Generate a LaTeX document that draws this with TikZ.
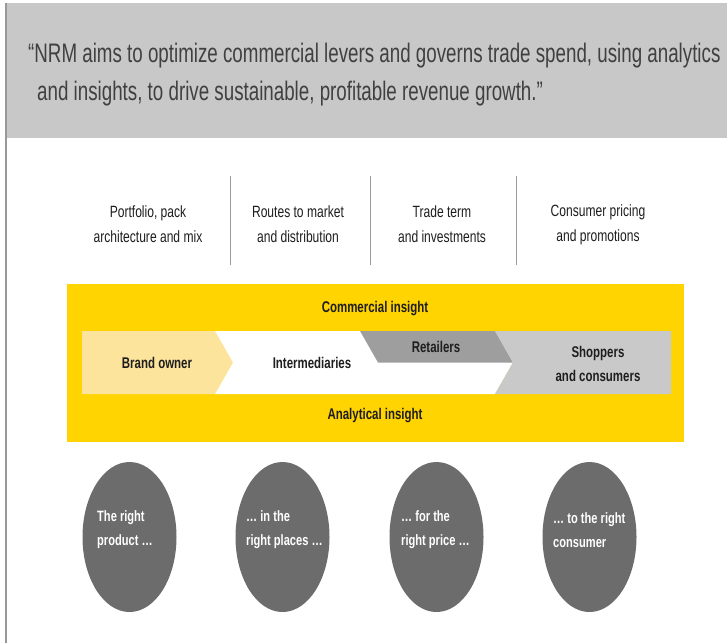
\documentclass[tikz,border=0pt]{standalone}
\usepackage{fontspec}
\setmainfont{Liberation Sans}[FakeStretch=0.74]
\newfontfamily\quotefont{Liberation Sans}[FakeStretch=0.70]
\usetikzlibrary{shapes.geometric}
\definecolor{bandgrey}{HTML}{C8C8C8}
\definecolor{eyyellow}{HTML}{FFD400}
\definecolor{paleyellow}{HTML}{FCE49C}
\definecolor{midgrey}{HTML}{9E9E9E}
\definecolor{lightgrey}{HTML}{C9C9C9}
\definecolor{circlegrey}{HTML}{6D6C6C}
\definecolor{ink}{HTML}{1E1E1E}
\definecolor{divgrey}{HTML}{9A9A9A}
\begin{document}
\begin{tikzpicture}[x=1pt,y=-1pt,
  quote/.style={font=\quotefont\fontsize{26.8}{32}\selectfont, text=ink!85, anchor=base west, inner sep=0},
  coltext/.style={font=\fontsize{16.3}{25}\selectfont, text=ink, align=center, inner sep=0},
  boldlabel/.style={font=\bfseries\fontsize{15.5}{24}\selectfont, text=ink, align=center, inner sep=0},
  oval/.style={ellipse, fill=circlegrey, minimum width=94pt, minimum height=150pt, inner sep=0},
  ovaltext/.style={font=\bfseries\fontsize{15}{24}\selectfont, text=white, align=left, anchor=west, inner sep=0},
  divider/.style={draw=divgrey, line width=0.8pt}]
\useasboundingbox (0,0) rectangle (727,643);
\fill[white] (0,0) rectangle (727,643);
% quote band
\fill[bandgrey] (6,3) rectangle (727,138);
\draw[gray!80, line width=1.2pt] (6,3) -- (6,643);
\node[quote] (q1) at (28,62) {“NRM aims to optimize commercial levers and governs trade spend, using analytics};
\node[quote] (q2) at (37,100) {and insights, to drive sustainable, profitable revenue growth.”};
% columns
\node[coltext] (c1) at (148,224.5) {Portfolio, pack\\architecture and mix};
\node[coltext] (c2) at (298,224.5) {Routes to market\\and distribution};
\node[coltext] (c3) at (442,224.5) {Trade term\\and investments};
\node[coltext] (c4) at (598,224.5) {Consumer pricing\\and promotions};
\draw[divider] (230,176) -- (230,265);
\draw[divider] (370,176) -- (370,265);
\draw[divider] (516,176) -- (516,265);
% yellow panel
\fill[eyyellow] (67,284) rectangle (684,442);
\node[boldlabel] (ci) at (375,309) {Commercial insight};
\node[boldlabel] (ai) at (375,416) {Analytical insight};
% chevrons
\fill[paleyellow] (82,331) -- (215,331) -- (233,362.5) -- (215,394) -- (82,394) -- cycle;
\fill[white] (215,331) -- (495,331) -- (513,362.5) -- (495,394) -- (215,394) -- (233,362.5) -- cycle;
\fill[midgrey] (360,331) -- (495,331) -- (513,362.5) -- (378,362.5) -- cycle;
\fill[lightgrey] (495,331) -- (671,331) -- (671,394) -- (495,394) -- (513,362.5) -- cycle;
\node[boldlabel] (bo) at (157,363) {Brand owner};
\node[boldlabel] (im) at (312,363) {Intermediaries};
\node[boldlabel] (re) at (436,347) {Retailers};
\node[boldlabel] (sh) at (598,364) {Shoppers\\and consumers};
% ovals
\node[oval] (o1) at (129.5,537) {};
\node[oval] (o2) at (282.5,537) {};
\node[oval] (o3) at (436.5,537) {};
\node[oval] (o4) at (589.5,537) {};
\node[ovaltext] (t1) at (97,530) {The right\\product …};
\node[ovaltext] (t2) at (246,530) {… in the\\right places …};
\node[ovaltext] (t3) at (401,530) {… for the\\right price …};
\node[ovaltext] (t4) at (553,530) {… to the right\\consumer};
\end{tikzpicture}
\end{document}
